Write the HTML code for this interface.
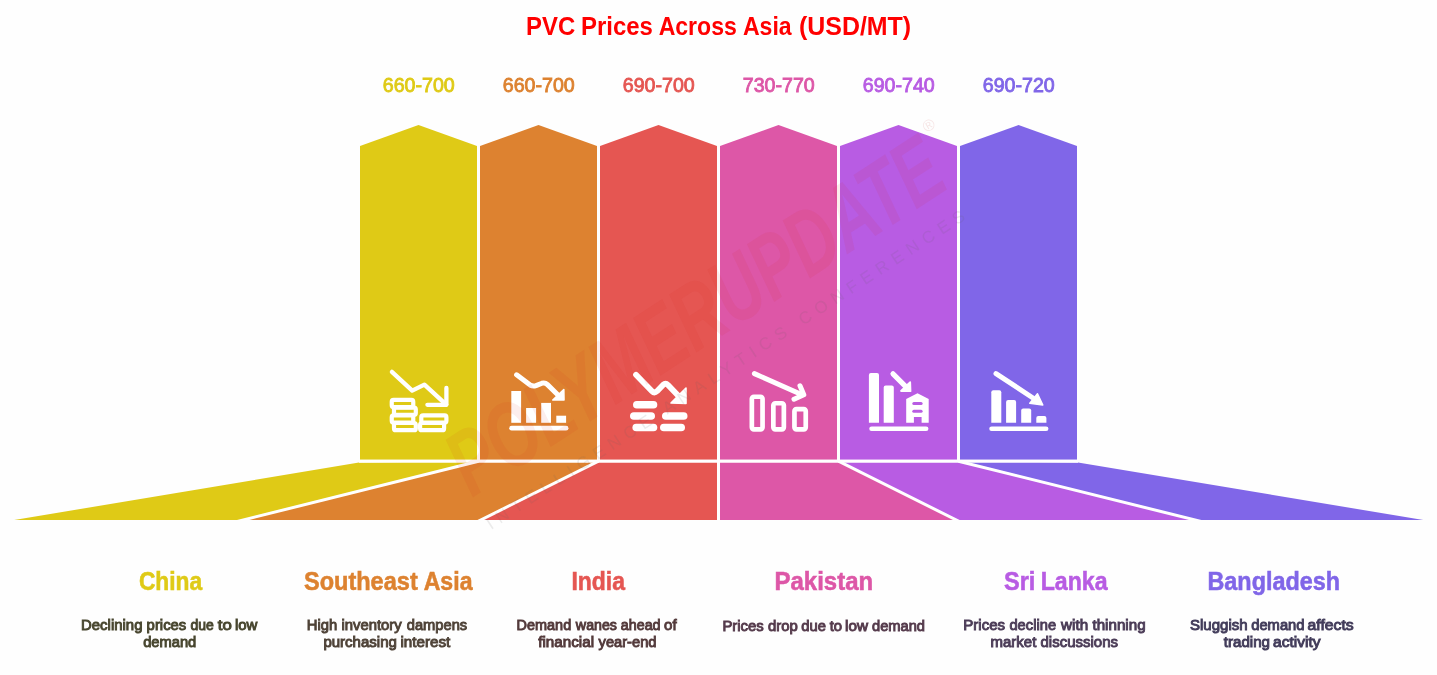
<!DOCTYPE html>
<html><head><meta charset="utf-8">
<style>
html,body{margin:0;padding:0;background:#fefefe;width:1437px;height:675px;overflow:hidden;}
svg{display:block;}
text{font-family:"Liberation Sans",sans-serif;}
</style></head>
<body>
<svg width="1437" height="675" viewBox="0 0 1437 675" style="will-change:transform">
<!-- title -->
<g font-weight="bold" font-size="26" fill="#ff0000">
<text x="526.1" y="34.6" textLength="49.15" lengthAdjust="spacingAndGlyphs">PVC</text>
<text x="581" y="34.6" textLength="71.88" lengthAdjust="spacingAndGlyphs">Prices</text>
<text x="658.63" y="34.6" textLength="78.22" lengthAdjust="spacingAndGlyphs">Across</text>
<text x="742.93" y="34.6" textLength="48.73" lengthAdjust="spacingAndGlyphs">Asia</text>
<text x="798.96" y="34.6" textLength="112.18" lengthAdjust="spacingAndGlyphs">(USD/MT)</text>
</g>

<!-- price labels -->
<g font-size="19.8" text-anchor="middle" stroke-width="0.85" style="font-weight:normal">
<text x="418.8" y="91.7" fill="#dfca16" stroke="#dfca16" textLength="72" lengthAdjust="spacingAndGlyphs">660-700</text>
<text x="538.8" y="91.7" fill="#dd8230" stroke="#dd8230" textLength="72" lengthAdjust="spacingAndGlyphs">660-700</text>
<text x="658.8" y="91.7" fill="#e55652" stroke="#e55652" textLength="72" lengthAdjust="spacingAndGlyphs">690-700</text>
<text x="778.8" y="91.7" fill="#dd57a7" stroke="#dd57a7" textLength="72" lengthAdjust="spacingAndGlyphs">730-770</text>
<text x="898.8" y="91.7" fill="#b85ce3" stroke="#b85ce3" textLength="72" lengthAdjust="spacingAndGlyphs">690-740</text>
<text x="1018.8" y="91.7" fill="#8066e8" stroke="#8066e8" textLength="72" lengthAdjust="spacingAndGlyphs">690-720</text>
</g>

<!-- columns -->
<polygon fill="#dfca16" points="360,146 418.5,125 477,146 477,459.7 360,459.7"/>
<polygon fill="#dd8230" points="480,146 538.5,125 597,146 597,459.7 480,459.7"/>
<polygon fill="#e55652" points="600,146 658.5,125 717,146 717,459.7 600,459.7"/>
<polygon fill="#dd57a7" points="720,146 778.5,125 837,146 837,459.7 720,459.7"/>
<polygon fill="#b85ce3" points="840,146 898.5,125 957,146 957,459.7 840,459.7"/>
<polygon fill="#8066e8" points="960,146 1018.5,125 1077,146 1077,459.7 960,459.7"/>

<!-- floor -->
<polygon fill="#dfca16" points="359,462.6 478.5,461.2 243.3,520 14.2,520"/>
<polygon fill="#dd8230" points="478.5,461.2 598.5,461.2 481,520 243.3,520"/>
<polygon fill="#e55652" points="598.5,461.2 718.5,461.2 718.5,520 481,520"/>
<polygon fill="#dd57a7" points="718.5,461.2 838.5,461.2 956.3,520 718.5,520"/>
<polygon fill="#b85ce3" points="838.5,461.2 958.5,461.2 1195.3,520 956.3,520"/>
<polygon fill="#8066e8" points="958.5,461.2 1078,462.6 1423.3,520 1195.3,520"/>
<defs><clipPath id="fc"><rect x="0" y="455" width="1437" height="65"/></clipPath></defs>
<g stroke="#ffffff" stroke-width="3" fill="none" clip-path="url(#fc)">
<line x1="359" y1="461.2" x2="1078" y2="461.2"/>
<line x1="478.5" y1="461.2" x2="231.2" y2="523"/>
<line x1="598.5" y1="461.2" x2="474.8" y2="523"/>
<line x1="718.5" y1="461.2" x2="718.5" y2="523"/>
<line x1="838.5" y1="461.2" x2="962.3" y2="523"/>
<line x1="958.5" y1="461.2" x2="1207.3" y2="523"/>
</g>

<!-- icons -->
<g fill="none" stroke="#fff" stroke-linecap="round" stroke-linejoin="round">
  <!-- icon1 coins -->
  <polyline stroke-width="4.3" points="391.9,371.9 412.2,390.6 424.4,384.6 446.2,404.6"/>
  <polyline stroke-width="4.3" points="446.4,387.9 446.4,404.8 427.4,404.8"/>
  <g stroke-width="4.2">
    <rect x="391.75" y="399.9" width="21.5" height="7.2" rx="1.8"/>
    <rect x="394" y="407.6" width="21.8" height="7.2" rx="1.8"/>
    <rect x="391.75" y="415.4" width="21.5" height="7.2" rx="1.8"/>
    <rect x="394" y="423" width="21.8" height="7.2" rx="1.8"/>
    <rect x="421.3" y="415.4" width="25.1" height="7.2" rx="1.8"/>
    <rect x="420.1" y="423" width="24" height="7.2" rx="1.8"/>
  </g>
  <!-- icon2 bar chart -->
  <path stroke-width="5" d="M516.6,374.8 L530.5,385.2 Q533,386.6 536,385.6 L542,383.2 Q545,382.2 547.5,384.6 L558,395"/>
  <line stroke-width="4.7" x1="511.6" y1="428.2" x2="566.1" y2="428.2"/>
  <!-- icon3 pills -->
  <path stroke-width="5.8" d="M636,374.8 L652,391.2 Q654.4,393.6 657,391.2 L663,385 Q665.6,382.6 668,385 L679,396.5"/>
  <g stroke-width="7.6">
    <line x1="636.8" y1="404.8" x2="653.5" y2="404.8"/>
    <line x1="633.8" y1="416" x2="651.2" y2="416"/>
    <line x1="665.8" y1="416" x2="683.7" y2="416"/>
    <line x1="636.2" y1="427.5" x2="653.5" y2="427.5"/>
    <line x1="663.8" y1="427.5" x2="681.2" y2="427.5"/>
  </g>
  <!-- icon4 outlined bars -->
  <line stroke-width="5" x1="754.4" y1="373.6" x2="802" y2="394.8"/>
  <polyline stroke-width="5" points="800,385.8 803.8,394.8 794,399.2"/>
  <g stroke-width="4.7">
    <rect x="751.85" y="396.75" width="10.7" height="32.6" rx="2"/>
    <rect x="773.35" y="403.25" width="10.5" height="26.1" rx="2"/>
    <rect x="794.45" y="409.15" width="11.3" height="20.2" rx="2"/>
  </g>
  <!-- icon5 -->
  <line stroke-width="5.2" x1="893" y1="373.8" x2="906" y2="386.8"/>
  <line stroke-width="4.7" x1="871.6" y1="428.75" x2="926.1" y2="428.75"/>
  <!-- icon6 -->
  <line stroke-width="5" x1="996" y1="373.6" x2="1033" y2="398"/>
  <line stroke-width="4.7" x1="991.6" y1="428.75" x2="1046.1" y2="428.75"/>
</g>
<g fill="#fff">
  <!-- icon2 bars -->
  <rect x="511.3" y="391" width="9.8" height="31.8"/>
  <rect x="526.1" y="408" width="10" height="14.8"/>
  <rect x="541.2" y="402.9" width="9.8" height="19.9"/>
  <rect x="556.3" y="415.7" width="9.8" height="7.1"/>
  <polygon points="563.8,389.5 552.8,400 564,400" stroke="#fff" stroke-width="1.6" stroke-linejoin="round"/>
  <!-- icon3 arrowhead -->
  <polygon points="686,388 671,403 686,403.5" stroke="#fff" stroke-width="1.6" stroke-linejoin="round"/>
  <!-- icon5 bars & house -->
  <path d="M868.9,422.8 V375 Q868.9,373 870.9,373 H877 Q879,373 879,375 V422.8 Z"/>
  <path d="M883.7,422.8 V387.5 Q883.7,385.5 885.7,385.5 H891.8 Q893.8,385.5 893.8,387.5 V422.8 Z"/>
  <polygon points="910.2,382.2 901,391 910.5,391.2" stroke="#fff" stroke-width="1.8" stroke-linejoin="round"/>
  <path d="M906.2,399.1 L917.5,393.2 L928.7,399.1 L928.7,422.8 L921.6,422.8 L921.6,416.9 L913.9,416.9 L913.9,422.8 L906.2,422.8 Z"/>
  <!-- icon6 bars -->
  <path d="M991.3,422.8 V392.2 Q991.3,390.2 993.3,390.2 H999.3 Q1001.3,390.2 1001.3,392.2 V422.8 Z"/>
  <path d="M1006.1,422.8 V402 Q1006.1,400 1008.1,400 H1014.1 Q1016.1,400 1016.1,402 V422.8 Z"/>
  <path d="M1021.2,422.8 V410.6 Q1021.2,408.6 1023.2,408.6 H1029.2 Q1031.2,408.6 1031.2,410.6 V422.8 Z"/>
  <path d="M1036.3,422.8 V418 Q1036.3,416 1038.3,416 H1044.4 Q1046.4,416 1046.4,418 V422.8 Z"/>
  <polygon points="1037.5,393.8 1029.8,403.3 1042.8,405" stroke="#fff" stroke-width="1.5" stroke-linejoin="round"/>
</g>
<g stroke="#b85ce3" stroke-width="3" stroke-linecap="round">
  <line x1="913.8" y1="403.6" x2="921.1" y2="403.6"/>
  <line x1="913.8" y1="411.2" x2="921.1" y2="411.2"/>
</g>

<!-- watermark -->
<g transform="translate(472,498) rotate(-33)">
  <text x="0" y="0" font-size="92" font-weight="bold" font-style="italic" fill="#d42a1c" fill-opacity="0.08" textLength="572" lengthAdjust="spacingAndGlyphs">POLYMERUPDATE</text>
</g>
<text x="923" y="130" font-size="16" fill="#c03030" fill-opacity="0.12" transform="rotate(-31 930 125)">&#174;</text>
<g transform="translate(491,530) rotate(-33.2)">
  <text x="0" y="0" font-size="17" fill="#606060" fill-opacity="0.12" textLength="568" lengthAdjust="spacing">INTELLIGENCE  ANALYTICS  CONFERENCES</text>
</g>

<!-- country labels -->
<g font-size="25.4" font-weight="bold" stroke-width="0.55">
<text x="138.91" y="590" fill="#dfca16" stroke="#dfca16" textLength="63.3" lengthAdjust="spacingAndGlyphs">China</text>
<text x="303.98" y="590" fill="#dd8230" stroke="#dd8230" textLength="113.76" lengthAdjust="spacingAndGlyphs">Southeast</text>
<text x="423.67" y="590" fill="#dd8230" stroke="#dd8230" textLength="48.83" lengthAdjust="spacingAndGlyphs">Asia</text>
<text x="571.41" y="590" fill="#e55652" stroke="#e55652" textLength="53.59" lengthAdjust="spacingAndGlyphs">India</text>
<text x="774.56" y="590" fill="#dd57a7" stroke="#dd57a7" textLength="98.57" lengthAdjust="spacingAndGlyphs">Pakistan</text>
<text x="1003.98" y="590" fill="#b85ce3" stroke="#b85ce3" textLength="31.44" lengthAdjust="spacingAndGlyphs">Sri</text>
<text x="1040.7" y="590" fill="#b85ce3" stroke="#b85ce3" textLength="66.9" lengthAdjust="spacingAndGlyphs">Lanka</text>
<text x="1207.49" y="590" fill="#8066e8" stroke="#8066e8" textLength="132.51" lengthAdjust="spacingAndGlyphs">Bangladesh</text>
</g>

<!-- descriptions -->
<g font-size="15.2" stroke-width="0.95">
<g fill="#48462f" stroke="#48462f">
<text x="81.04" y="630" textLength="61.45" lengthAdjust="spacingAndGlyphs">Declining</text>
<text x="146.61" y="630" textLength="39.67" lengthAdjust="spacingAndGlyphs">prices</text>
<text x="190.55" y="630" textLength="23.33" lengthAdjust="spacingAndGlyphs">due</text>
<text x="217.87" y="630" textLength="14.01" lengthAdjust="spacingAndGlyphs">to</text>
<text x="234.96" y="630" textLength="22.44" lengthAdjust="spacingAndGlyphs">low</text>
<text x="143.14" y="647" textLength="53.15" lengthAdjust="spacingAndGlyphs">demand</text>
</g>
<g fill="#4f4338" stroke="#4f4338">
<text x="306.75" y="630" textLength="30.45" lengthAdjust="spacingAndGlyphs">High</text>
<text x="341.47" y="630" textLength="60.29" lengthAdjust="spacingAndGlyphs">inventory</text>
<text x="406.74" y="630" textLength="60.43" lengthAdjust="spacingAndGlyphs">dampens</text>
<text x="323.4" y="647" textLength="73.5" lengthAdjust="spacingAndGlyphs">purchasing</text>
<text x="400.46" y="647" textLength="49.88" lengthAdjust="spacingAndGlyphs">interest</text>
</g>
<g fill="#533a3b" stroke="#533a3b">
<text x="516.57" y="630" textLength="54.61" lengthAdjust="spacingAndGlyphs">Demand</text>
<text x="575.87" y="630" textLength="41.1" lengthAdjust="spacingAndGlyphs">wanes</text>
<text x="620.84" y="630" textLength="39.73" lengthAdjust="spacingAndGlyphs">ahead</text>
<text x="664.04" y="630" textLength="12.57" lengthAdjust="spacingAndGlyphs">of</text>
<text x="538.26" y="647" textLength="55.78" lengthAdjust="spacingAndGlyphs">financial</text>
<text x="598.62" y="647" textLength="57.86" lengthAdjust="spacingAndGlyphs">year-end</text>
</g>
<g fill="#553b4c" stroke="#553b4c">
<text x="722.44" y="630.8" textLength="41.33" lengthAdjust="spacingAndGlyphs">Prices</text>
<text x="768.04" y="630.8" textLength="29.82" lengthAdjust="spacingAndGlyphs">drop</text>
<text x="801.24" y="630.8" textLength="24.65" lengthAdjust="spacingAndGlyphs">due</text>
<text x="829.64" y="630.8" textLength="12.42" lengthAdjust="spacingAndGlyphs">to</text>
<text x="845.05" y="630.8" textLength="22.94" lengthAdjust="spacingAndGlyphs">low</text>
<text x="872.04" y="630.8" textLength="52.94" lengthAdjust="spacingAndGlyphs">demand</text>
</g>
<g fill="#4c3d58" stroke="#4c3d58">
<text x="963.24" y="630" textLength="41.84" lengthAdjust="spacingAndGlyphs">Prices</text>
<text x="1009.44" y="630" textLength="46.65" lengthAdjust="spacingAndGlyphs">decline</text>
<text x="1061.0" y="630" textLength="27.11" lengthAdjust="spacingAndGlyphs">with</text>
<text x="1092.44" y="630" textLength="53.16" lengthAdjust="spacingAndGlyphs">thinning</text>
<text x="990.57" y="647" textLength="45.77" lengthAdjust="spacingAndGlyphs">market</text>
<text x="1040.54" y="647" textLength="77.53" lengthAdjust="spacingAndGlyphs">discussions</text>
</g>
<g fill="#433d5b" stroke="#433d5b">
<text x="1189.99" y="630" textLength="57.62" lengthAdjust="spacingAndGlyphs">Sluggish</text>
<text x="1251.24" y="630" textLength="53.25" lengthAdjust="spacingAndGlyphs">demand</text>
<text x="1307.52" y="630" textLength="46.25" lengthAdjust="spacingAndGlyphs">affects</text>
<text x="1223.74" y="647" textLength="46.26" lengthAdjust="spacingAndGlyphs">trading</text>
<text x="1273.03" y="647" textLength="47.52" lengthAdjust="spacingAndGlyphs">activity</text>
</g>
</g>
</svg>
</body></html>
